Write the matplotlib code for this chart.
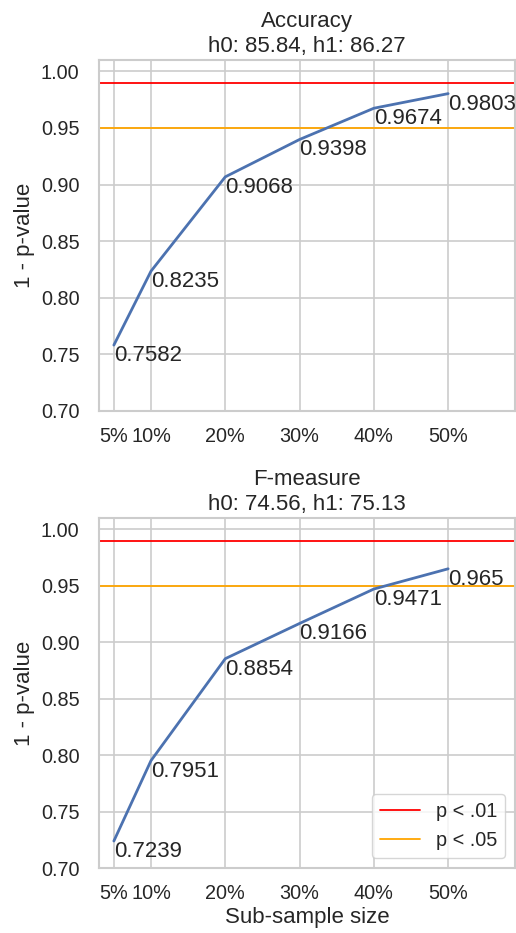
import matplotlib
matplotlib.use("Agg")
import matplotlib.pyplot as plt
import seaborn as sns

sns.set_theme(style="whitegrid", font_scale=1.3)
plt.rcParams['font.family'] = ['Liberation Sans', 'DejaVu Sans']
plt.rcParams['xtick.major.pad'] = 5.5
plt.rcParams['ytick.major.pad'] = 8
plt.rcParams['axes.linewidth'] = 1.5
plt.rcParams['grid.linewidth'] = 1.2

sizes = [5, 10, 20, 30, 40, 50]
size_labels = ["5%", "10%", "20%", "30%", "40%", "50%"]
acc_vals = [0.7582, 0.8235, 0.9068, 0.9398, 0.9674, 0.9803]
f_vals = [0.7239, 0.7951, 0.8854, 0.9166, 0.9471, 0.965]
acc_labels = ["0.7582", "0.8235", "0.9068", "0.9398", "0.9674", "0.9803"]
f_labels = ["0.7239", "0.7951", "0.8854", "0.9166", "0.9471", "0.965"]
titles = ["Accuracy\nh0: 85.84, h1: 86.27", "F-measure\nh0: 74.56, h1: 75.13"]
thresholds = [0.99, 0.95]
thr_labels = ["p < .01", "p < .05"]
thr_colors = ["red", "orange"]

fig = plt.figure(figsize=(5.16, 9.33), dpi=100)
ax1 = fig.add_axes([99/516, 1-411/933, 416/516, 351/933])
ax2 = fig.add_axes([99/516, 1-868/933, 416/516, 350/933])

for ax, vals, labs, title in [(ax1, acc_vals, acc_labels, titles[0]), (ax2, f_vals, f_labels, titles[1])]:
    for t, lab, c in zip(thresholds, thr_labels, thr_colors):
        ax.axhline(t, color=c, lw=1.3, label=lab)
    ax.plot(sizes, vals, color="#4c72b0", lw=2)
    for x, y, s in zip(sizes, vals, labs):
        ax.text(x, y, s, ha="left", va="top", fontsize=16)
    ax.set_xlim(3, 59)
    ax.set_ylim(0.70, 1.01)
    ax.set_xticks(sizes)
    ax.set_xticklabels(size_labels)
    ax.set_yticks([0.70, 0.75, 0.80, 0.85, 0.90, 0.95, 1.00])
    ax.set_ylabel("1 - p-value", fontsize=16, labelpad=4)
    ax.set_title(title, fontsize=16, pad=6)

ax2.set_xlabel("Sub-sample size", fontsize=16, labelpad=3)
ax2.legend(loc="lower right", fontsize=14.3)

fig.savefig("out.png", dpi=100)
